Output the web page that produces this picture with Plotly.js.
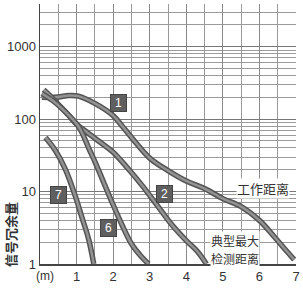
<!DOCTYPE html>
<html><head><meta charset="utf-8">
<script src="https://cdn.plot.ly/plotly-3.0.1.min.js"></script>
<style>html,body{margin:0;padding:0;background:#fff}#c{width:303px;height:288px}</style>
</head><body><div id="c"></div>
<script>
// data
const c1x = [0.05,0.4,0.8,1.05,1.5,2.0,2.25,2.5,3.0,3.5,4.0,4.5,5.0,5.5,6.0,6.4,6.7,6.95];
const c1y = [200,200,212,208,165,112,80,56,29,19.5,14,11,8,6.2,4,2.4,1.6,1.15];
const c2x = [0.1,0.3,0.5,0.75,1.0,1.3,1.6,2.0,2.4,2.8,3.2,3.6,4.0,4.3,4.55];
const c2y = [255,205,160,118,85,65,50,35,21,12,6.5,3.5,2.1,1.5,1.0];
const c6x = [0.05,0.35,0.7,1.05,1.2,1.35,1.5,1.7,1.95,2.25,2.5,2.75,2.97];
const c6y = [225,180,125,80,57,38,26,15,7.5,3.4,1.9,1.3,1.0];
const c7x = [0.15,0.42,0.7,0.97,1.14,1.33,1.47];
const c7y = [56,37,20,8.5,4.5,2.2,1.0];
const curveLabels = ['1','2','6','7'];
const labelX = [2.15,3.41,1.88,0.51];
const labelY = [165,9.4,3.1,9.1];
const xTicks = [1,2,3,4,5,6,7];
const yTicks = [1,10,100,1000];
const yTickText = ['1','10','100','1000'];
const workLine = 6.4;
const yTitle = '信号冗余量';
const workText = '工作距离';
const maxText1 = '典型最大';
const maxText2 = '检测距离';

const H=288, T=4, B=24, L=40, R=7, W=303;
const curves = [[c1x,c1y],[c2x,c2y],[c6x,c6y],[c7x,c7y]];
const traces = [];
curves.forEach(([x,y])=>{
  traces.push({x:x,y:y,mode:'lines',line:{color:'#555',width:5.5,shape:'spline',smoothing:1},hoverinfo:'skip',showlegend:false});
  traces.push({x:x,y:y,mode:'lines',line:{color:'#929292',width:2.5,shape:'spline',smoothing:1},hoverinfo:'skip',showlegend:false});
});

const minorVals = [];
[1,10,100,1000].forEach(d=>{for(let k=2;k<=9;k++){minorVals.push(d*k);}});

const annotations = curveLabels.map((t,i)=>({
  x:labelX[i], y:Math.log10(labelY[i]), xref:'x', yref:'y', text:t, showarrow:false,
  font:{family:'Liberation Sans, Arial, sans-serif',size:12,color:'#fff'},
  bgcolor:'#5f5f5f', bordercolor:'#444', borderwidth:1, borderpad:1, width:13, height:14
}));
const py = p => (H-B-p)/(H-T-B);
annotations.push({x:6.1,y:Math.log10(11),xref:'x',yref:'y',text:workText,showarrow:false,
  font:{family:'Noto Sans CJK SC',size:13,color:'#333'},bgcolor:'#fff',borderpad:0});
annotations.push({x:5.33,y:py(240),xref:'x',yref:'paper',text:maxText1,showarrow:false,yanchor:'middle',
  font:{family:'Noto Sans CJK SC',size:12,color:'#333'},bgcolor:'#fff',borderpad:0});
annotations.push({x:5.33,y:py(258),xref:'x',yref:'paper',text:maxText2,showarrow:false,yanchor:'middle',
  font:{family:'Noto Sans CJK SC',size:12,color:'#333'},bgcolor:'#fff',borderpad:0});
annotations.push({x:(10-L)/(W-L-R),y:py(235),xref:'paper',yref:'paper',text:yTitle,showarrow:false,textangle:-90,
  xanchor:'center',yanchor:'middle',
  font:{family:'Noto Sans CJK SC',size:13,color:'#333',weight:'bold'}});
annotations.push({x:0.15,y:py(276),xref:'x',yref:'paper',text:'(m)',showarrow:false,
  xanchor:'center',yanchor:'middle',
  font:{family:'Liberation Sans, Arial, sans-serif',size:12,color:'#333'}});

const layout = {
  width:W, height:H, margin:{l:L,r:R,t:T,b:B},
  paper_bgcolor:'#fff', plot_bgcolor:'#fff',
  xaxis:{range:[0,7],tickvals:xTicks,showgrid:true,gridcolor:'#8a8a8a',gridwidth:1,
    minor:{dtick:0.5,showgrid:true,gridcolor:'#9a9a9a',gridwidth:1},
    showline:true,linecolor:'#444',linewidth:1.5,mirror:false,zeroline:false,ticks:'',
    tickfont:{family:'Liberation Sans, Arial, sans-serif',size:13,color:'#333'}},
  yaxis:{type:'log',range:[0,3.59],tickvals:yTicks,ticktext:yTickText,showgrid:true,gridcolor:'#777',gridwidth:1,
    minor:{tickmode:'array',tickvals:minorVals,showgrid:true,gridcolor:'#9a9a9a',gridwidth:1,ticks:''},
    showline:true,linecolor:'#444',linewidth:1.5,zeroline:false,ticks:'',
    tickfont:{family:'Liberation Sans, Arial, sans-serif',size:13,color:'#333'}},
  shapes:[{type:'line',xref:'paper',x0:0,x1:1,yref:'y',y0:Math.log10(workLine),y1:Math.log10(workLine),
    line:{color:'#555',width:2},layer:'below'}],
  annotations:annotations
};
Plotly.newPlot('c',traces,layout,{staticPlot:true,displayModeBar:false});
</script></body></html>
